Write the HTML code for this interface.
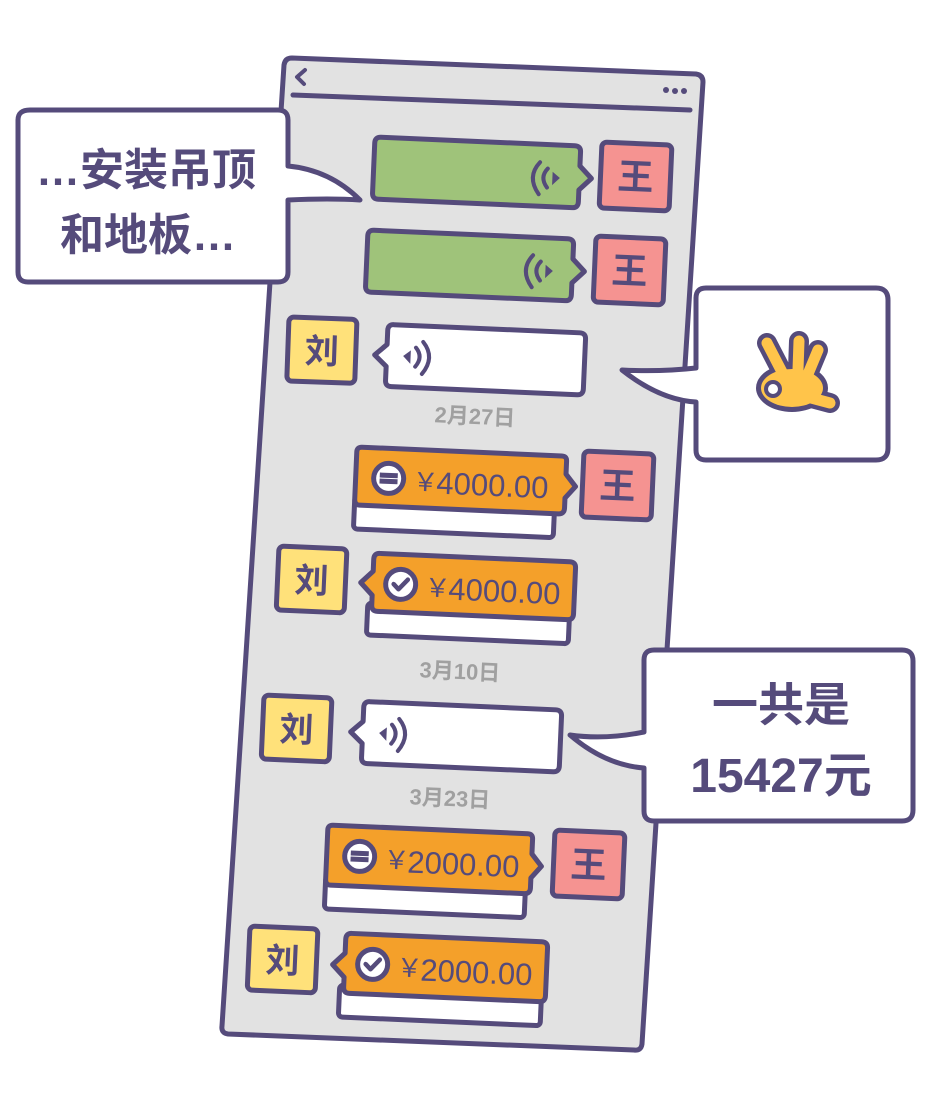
<!DOCTYPE html>
<html><head><meta charset="utf-8"><style>
html,body{margin:0;padding:0;background:#fff;}
svg{display:block}
text{font-family:"Liberation Sans","Noto Sans CJK SC",sans-serif;}
</style></head><body>
<svg width="941" height="1096" viewBox="0 0 941 1096" xmlns="http://www.w3.org/2000/svg">
<defs>
  <g id="voiceR">
    <path d="M6,0 H200 Q206,0 206,6 V20 L218,32 L206,44 V56 Q206,62 200,62 H6 Q0,62 0,56 V6 Q0,0 6,0 Z" fill="#9fc37a" stroke="#554b7b" stroke-width="5" stroke-linejoin="round"/>
    <path d="M166,18 Q153,33 166,50" fill="none" stroke="#554b7b" stroke-width="4" stroke-linecap="round"/>
    <path d="M174,24 Q166,33 174,43" fill="none" stroke="#554b7b" stroke-width="4" stroke-linecap="round"/>
    <path d="M180,29 L185,33 L180,38 Z" fill="#554b7b" stroke="#554b7b" stroke-width="2"/>
  </g>
  <g id="voiceL">
    <path d="M16,0 H202 Q208,0 208,6 V56 Q208,62 202,62 H16 Q10,62 10,56 V42 L-2,31 L10,20 V6 Q10,0 16,0 Z" fill="#fff" stroke="#554b7b" stroke-width="5" stroke-linejoin="round"/>
    <path d="M46,16 Q59,31 46,48" fill="none" stroke="#554b7b" stroke-width="4" stroke-linecap="round"/>
    <path d="M39,22 Q47,31 39,41" fill="none" stroke="#554b7b" stroke-width="4" stroke-linecap="round"/>
    <path d="M33,27 L28,31 L33,36 Z" fill="#554b7b" stroke="#554b7b" stroke-width="2"/>
  </g>
  <g id="wang">
    <rect x="0" y="0" width="70" height="66" rx="5" fill="#f59391" stroke="#554b7b" stroke-width="5"/>
    <text x="35" y="46" text-anchor="middle" font-size="36" font-weight="bold" fill="#554b7b">王</text>
  </g>
  <g id="liu">
    <rect x="0" y="0" width="68" height="64" rx="5" fill="#ffe17a" stroke="#554b7b" stroke-width="5"/>
    <text x="34" y="45" text-anchor="middle" font-size="34" font-weight="bold" fill="#554b7b">刘</text>
  </g>
  <g id="xfer">
    <circle cx="0" cy="0" r="15" fill="#fff" stroke="#554b7b" stroke-width="5"/>
    <path d="M-9,-3 H9 M9,3 H-9" stroke="#554b7b" stroke-width="5"/>
  </g>
  <g id="chk">
    <circle cx="0" cy="0" r="15" fill="#fff" stroke="#554b7b" stroke-width="5"/>
    <path d="M-7,0 L-2,5 L7,-5" fill="none" stroke="#554b7b" stroke-width="4.5" stroke-linecap="round" stroke-linejoin="round"/>
  </g>
</defs>

<path d="M292,58 L696,74 Q703,75 703,82 L642,1044 Q641,1051 634,1050 L228,1034 Q221,1033 222,1026 L284,65 Q285,58 292,58 Z" fill="#e2e2e2" stroke="#554b7b" stroke-width="5" stroke-linejoin="round"/>
<path d="M293,95 L690,110" stroke="#554b7b" stroke-width="5" stroke-linecap="round"/>
<path d="M305,70 L297,77 L304,84" fill="none" stroke="#554b7b" stroke-width="4" stroke-linecap="round" stroke-linejoin="round"/>
<circle cx="666" cy="90" r="3" fill="#554b7b"/><circle cx="675" cy="91" r="3" fill="#554b7b"/><circle cx="684" cy="91" r="3" fill="#554b7b"/>

<g transform="translate(375,137) rotate(2.5)"><use href="#voiceR"/></g>
<g transform="translate(602,142) rotate(2.5)"><use href="#wang"/></g>
<g transform="translate(368,230) rotate(2.5)"><use href="#voiceR"/></g>
<g transform="translate(596,236) rotate(2.5)"><use href="#wang"/></g>

<g transform="translate(289,317) rotate(2)"><use href="#liu"/></g>
<g transform="translate(378,324) rotate(2.5)"><use href="#voiceL"/></g>

<text x="475" y="424" text-anchor="middle" font-size="22" font-weight="bold" fill="#a0a0a0" transform="rotate(2.5 475 415)">2月27日</text>

<g transform="translate(357,447) rotate(2.5)">
  <rect x="0" y="50" width="200" height="32" rx="4" fill="#fff" stroke="#554b7b" stroke-width="5"/>
  <path d="M5,0 H205 Q210,0 210,5 V18 L220,30 L210,42 V52 Q210,58 204,58 H5 Q0,58 0,52 V5 Q0,0 5,0 Z" fill="#f4a02a" stroke="#554b7b" stroke-width="5" stroke-linejoin="round"/>
  <use href="#xfer" x="33" y="30"/>
  <text x="57" y="41" font-size="26" fill="#554b7b" font-family="Liberation Serif,serif">￥</text>
  <text x="81" y="43" font-size="31" fill="#554b7b">4000.00</text>
</g>
<g transform="translate(584,451) rotate(2.5)"><use href="#wang"/></g>

<g transform="translate(279,546) rotate(2.5)"><use href="#liu"/></g>
<g transform="translate(370,553) rotate(2.5)">
  <rect x="0" y="50" width="202" height="32" rx="4" fill="#fff" stroke="#554b7b" stroke-width="5"/>
  <path d="M10,0 H200 Q206,0 206,6 V52 Q206,58 200,58 H10 Q4,58 4,52 V42 L-8,30 L4,18 V6 Q4,0 10,0 Z" fill="#f4a02a" stroke="#554b7b" stroke-width="5" stroke-linejoin="round"/>
  <use href="#chk" x="32" y="30"/>
  <text x="56" y="41" font-size="26" fill="#554b7b" font-family="Liberation Serif,serif">￥</text>
  <text x="80" y="43" font-size="31" fill="#554b7b">4000.00</text>
</g>

<text x="460" y="679" text-anchor="middle" font-size="22" font-weight="bold" fill="#a0a0a0" transform="rotate(2.5 460 670)">3月10日</text>

<g transform="translate(264,695) rotate(2.5)"><use href="#liu"/></g>
<g transform="translate(354,701) rotate(2.5)"><use href="#voiceL"/></g>

<text x="450" y="806" text-anchor="middle" font-size="22" font-weight="bold" fill="#a0a0a0" transform="rotate(2.5 450 797)">3月23日</text>

<g transform="translate(328,825) rotate(2.5)">
  <rect x="0" y="52" width="200" height="32" rx="4" fill="#fff" stroke="#554b7b" stroke-width="5"/>
  <path d="M5,0 H200 Q205,0 205,5 V20 L215,32 L205,44 V54 Q205,60 199,60 H5 Q0,60 0,54 V5 Q0,0 5,0 Z" fill="#f4a02a" stroke="#554b7b" stroke-width="5" stroke-linejoin="round"/>
  <use href="#xfer" x="33" y="30"/>
  <text x="57" y="41" font-size="26" fill="#554b7b" font-family="Liberation Serif,serif">￥</text>
  <text x="81" y="44" font-size="31" fill="#554b7b">2000.00</text>
</g>
<g transform="translate(555,830) rotate(2.5)"><use href="#wang"/></g>

<g transform="translate(250,926) rotate(2.5)"><use href="#liu"/></g>
<g transform="translate(342,933) rotate(2.5)">
  <rect x="0" y="52" width="202" height="32" rx="4" fill="#fff" stroke="#554b7b" stroke-width="5"/>
  <path d="M10,0 H200 Q206,0 206,6 V54 Q206,60 200,60 H10 Q4,60 4,54 V44 L-8,32 L4,20 V6 Q4,0 10,0 Z" fill="#f4a02a" stroke="#554b7b" stroke-width="5" stroke-linejoin="round"/>
  <use href="#chk" x="32" y="30"/>
  <text x="56" y="41" font-size="26" fill="#554b7b" font-family="Liberation Serif,serif">￥</text>
  <text x="80" y="44" font-size="31" fill="#554b7b">2000.00</text>
</g>

<path d="M30,110 H278 Q288,110 288,120 V166 Q330,170 360,200 Q330,198 288,200 V272 Q288,282 278,282 H28 Q18,282 18,272 V120 Q18,110 30,110 Z" fill="#fff" stroke="#554b7b" stroke-width="5" stroke-linejoin="round"/>
<text x="36" y="185" font-size="44" font-weight="bold" fill="#554b7b">…安装吊顶</text>
<text x="60" y="250" font-size="44" font-weight="bold" fill="#554b7b">和地板…</text>

<path d="M706,288 H876 Q888,288 888,300 V448 Q888,460 876,460 H706 Q696,460 696,450 V402 Q660,400 622,370 Q660,372 696,368 V298 Q696,288 706,288 Z" fill="#fff" stroke="#554b7b" stroke-width="5" stroke-linejoin="round"/>
<!-- OK hand -->
<g stroke-linecap="round">
  <path d="M767,343 L782,372 M799,341 L798,370 M818,350 L808,374" stroke="#554b7b" stroke-width="20"/>
  <ellipse cx="792" cy="388" rx="36" ry="24" fill="#554b7b"/>
  <path d="M800,395 L830,403" stroke="#554b7b" stroke-width="20"/>
  <path d="M767,343 L782,372 M799,341 L798,370 M818,350 L808,374" stroke="#ffc44a" stroke-width="11"/>
  <ellipse cx="792" cy="388" rx="31" ry="19" fill="#ffc44a"/>
  <path d="M800,395 L830,403" stroke="#ffc44a" stroke-width="11"/>
  <circle cx="773" cy="389" r="7" fill="#fff" stroke="#554b7b" stroke-width="4"/>
</g>

<path d="M654,650 H902 Q913,650 913,661 V810 Q913,821 902,821 H654 Q644,821 644,811 V768 Q605,765 570,735 Q605,740 644,732 V660 Q644,650 654,650 Z" fill="#fff" stroke="#554b7b" stroke-width="5" stroke-linejoin="round"/>
<text x="781" y="721" text-anchor="middle" font-size="46" font-weight="bold" fill="#554b7b">一共是</text>
<text x="781" y="792" text-anchor="middle" font-size="48" font-weight="bold" fill="#554b7b">15427元</text>
</svg>
</body></html>
